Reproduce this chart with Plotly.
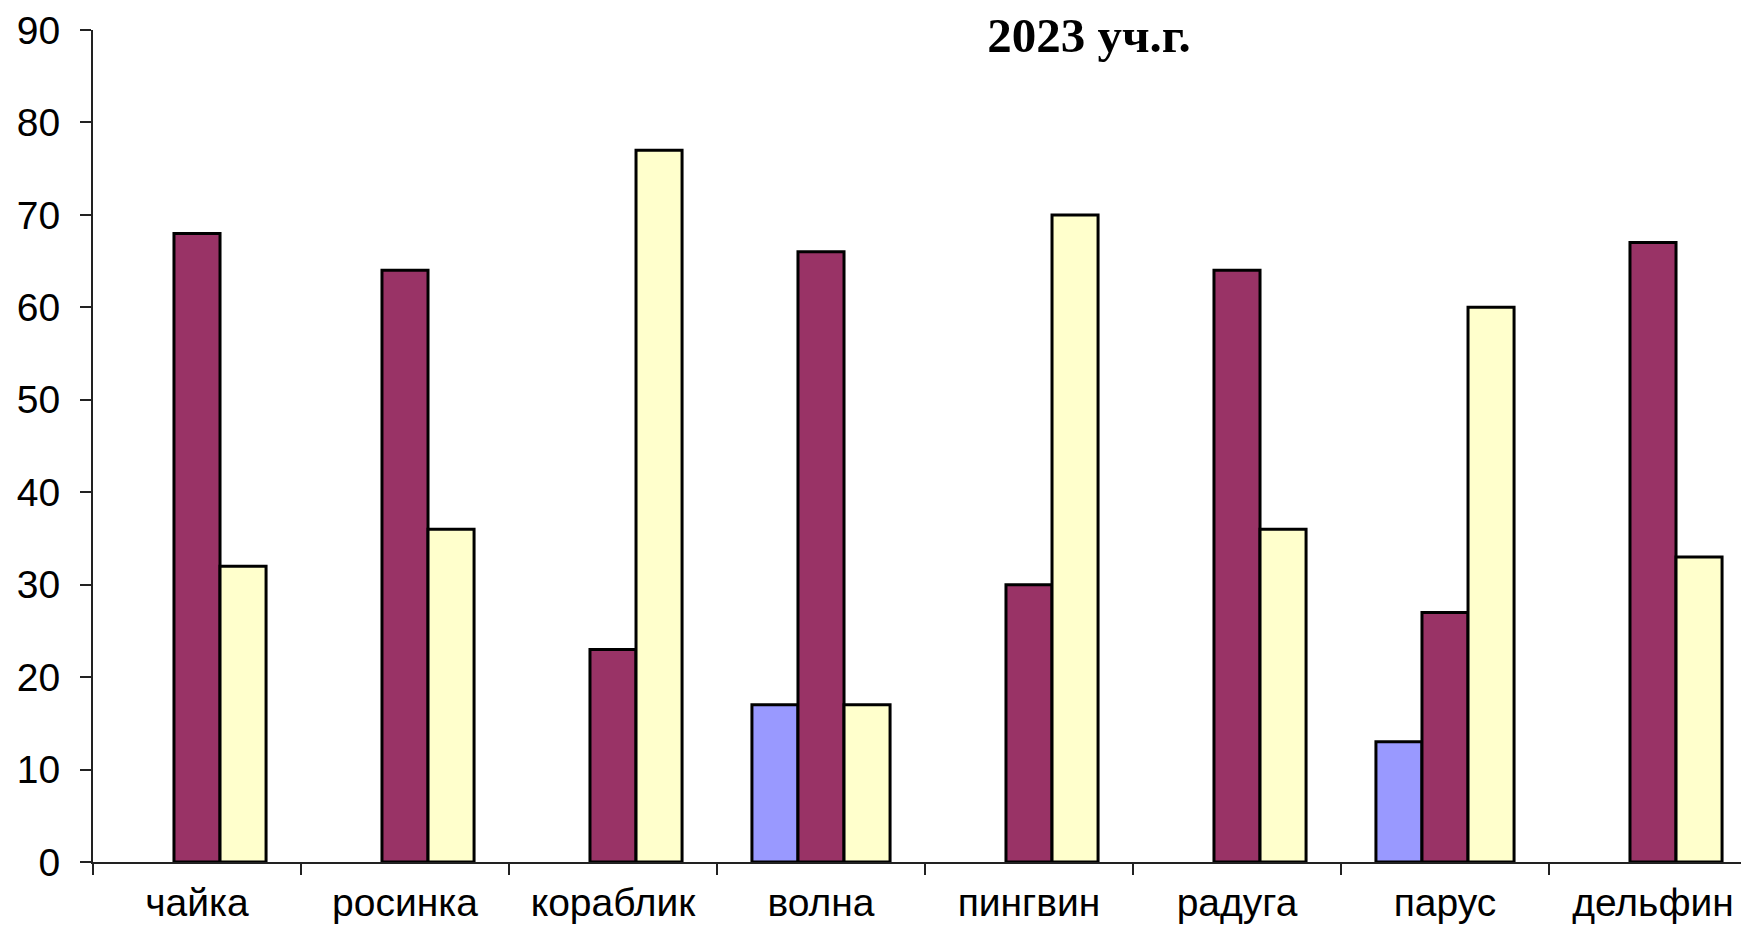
import plotly.graph_objects as go

categories = ["чайка", "росинка", "кораблик", "волна", "пингвин", "радуга", "парус", "дельфин"]
series_blue = [None, None, None, 17, None, None, 13, None]
series_maroon = [68, 64, 23, 66, 30, 64, 27, 67]
series_yellow = [32, 36, 77, 17, 70, 36, 60, 33]
y_ticks = [0, 10, 20, 30, 40, 50, 60, 70, 80, 90]
title_text = "2023 уч.г."

W, H = 1749, 927
fig = go.Figure()
for vals, col in [(series_blue, "#9999FF"), (series_maroon, "#993366"), (series_yellow, "#FFFFCC")]:
    fig.add_trace(go.Bar(x=categories, y=vals, marker=dict(color=col, line=dict(color="black", width=3)),
                         showlegend=False))

fig.update_layout(
    width=W, height=H,
    barmode="group", bargap=0.336, bargroupgap=0,
    plot_bgcolor="white", paper_bgcolor="white",
    margin=dict(l=85, r=0, t=22, b=73),
    font=dict(family="Liberation Sans, Arial", color="black", size=39),
    title=dict(text="<b>" + title_text + "</b>", xref="container", yref="container",
               x=1081 / W, y=1 - 27 / H, xanchor="center", yanchor="middle",
               font=dict(family="Liberation Serif, Times New Roman", size=49, color="black")),
)
fig.update_xaxes(range=[-0.5, 7.5], showline=True, linecolor="#222", linewidth=2,
                 ticks="outside", ticklen=11, tickwidth=2, tickcolor="#222", tickson="boundaries",
                 showgrid=False, ticklabelstandoff=5, automargin=False, ticklabeloverflow="allow")
fig.update_yaxes(range=[0, 90], tickvals=y_ticks, showline=True, linecolor="#222", linewidth=2,
                 ticks="outside", ticklen=11, tickwidth=2, tickcolor="#222", showgrid=False,
                 zeroline=False, ticklabelstandoff=12, automargin=False, ticklabeloverflow="allow")
fig.write_html("out.html")
